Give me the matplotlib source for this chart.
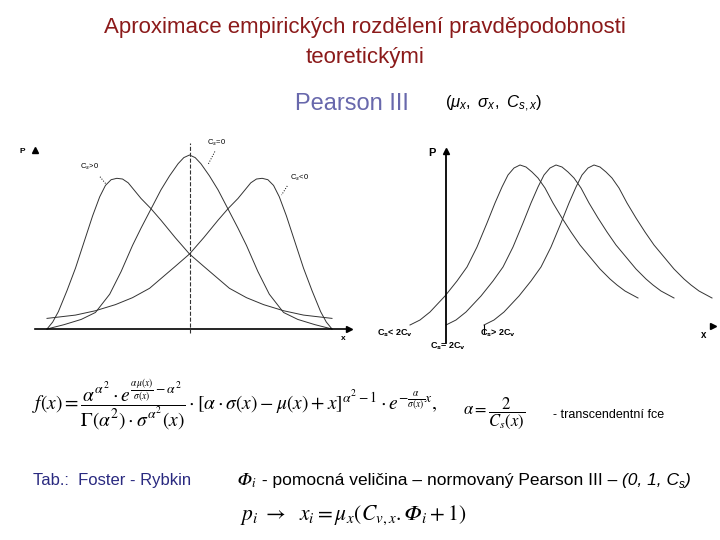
import matplotlib
matplotlib.use('Agg')
import matplotlib.pyplot as plt

plt.rcParams['font.family'] = ['Liberation Sans', 'DejaVu Sans']
plt.rcParams['mathtext.fontset'] = 'stix'
# "custom" math set, used only for the sans italic bits of the text lines
plt.rcParams['mathtext.rm'] = 'Liberation Sans'
plt.rcParams['mathtext.it'] = 'Liberation Sans:italic'
plt.rcParams['mathtext.bf'] = 'Liberation Sans:bold'

# --- left diagram: three density shapes (x in 0..10, P in 0..1) ---
cs_pos_x = [0, 0.2, 0.4, 0.7, 1.0, 1.3, 1.6, 1.85, 2.05, 2.25, 2.45, 2.65, 2.85, 3.05, 3.3, 3.64,
            4.0, 4.5, 5.0, 5.5, 6.0, 6.4, 7.0, 7.6, 8.3, 9.0, 10]
cs_pos_y = [0, 0.04, 0.1, 0.22, 0.35, 0.5, 0.65, 0.76, 0.825, 0.858, 0.866, 0.862, 0.84, 0.8, 0.75, 0.693,
            0.625, 0.525, 0.431, 0.36, 0.29, 0.234, 0.18, 0.14, 0.105, 0.08, 0.061]
cs_neg_x = [0, 1.0, 1.7, 2.4, 3.0, 3.6, 4.0, 4.5, 5.0, 5.5, 6.0, 6.36, 6.7, 6.95, 7.15, 7.35, 7.55,
            7.75, 7.95, 8.15, 8.4, 8.7, 9.0, 9.3, 9.6, 9.8, 10]
cs_neg_y = [0.061, 0.08, 0.105, 0.14, 0.18, 0.234, 0.29, 0.36, 0.431, 0.525, 0.625, 0.693, 0.75, 0.8, 0.84,
            0.862, 0.866, 0.858, 0.825, 0.76, 0.65, 0.5, 0.35, 0.22, 0.1, 0.04, 0]
cs_zero_x = [0, 0.6, 1.2, 1.7, 2.2, 2.6, 3.0, 3.3, 3.65, 4.0, 4.3, 4.6, 4.8, 5.0, 5.2, 5.4, 5.7,
             6.0, 6.35, 6.7, 7.0, 7.4, 7.8, 8.3, 8.8, 9.4, 10]
cs_zero_y = [0, 0.025, 0.055, 0.095, 0.2, 0.33, 0.48, 0.58, 0.69, 0.8, 0.88, 0.95, 0.985, 1.0, 0.985, 0.95,
             0.88, 0.8, 0.69, 0.58, 0.48, 0.33, 0.2, 0.095, 0.055, 0.025, 0]

# --- right diagram: one shape, shifted for Cs<2Cv, Cs=2Cv, Cs>2Cv ---
shape_x = [0, 10, 20, 35, 47, 57, 67, 77, 85, 92, 98, 104, 110, 116, 122, 128, 135, 143, 152, 161,
           170, 180, 190, 200, 207, 215, 228]
shape_y = [2, 7, 15, 31, 46, 60, 80, 104, 124, 140, 152, 159, 162, 160, 155, 149, 139, 124, 109, 95,
           82, 70, 58, 48, 42, 36, 29]
shifts = [0, 36, 74]
right_labels = [r'C$_\mathbf{s}$< 2C$_\mathbf{v}$', r'C$_\mathbf{s}$= 2C$_\mathbf{v}$', r'C$_\mathbf{s}$> 2C$_\mathbf{v}$']

PHI = '\U0001D6F7'  # math italic capital phi

fig = plt.figure(figsize=(7.2, 5.4), dpi=100)

# page layer in pixel coordinates, for the slide texts
bg = fig.add_axes([0, 0, 1, 1])
bg.set_xlim(0, 720)
bg.set_ylim(540, 0)
bg.axis('off')

red = '#8b1a1a'
bg.text(365, 27, 'Aproximace empirických rozdělení pravděpodobnosti', ha='center', va='center',
        fontsize=16, color=red)
bg.text(365, 57, 'teoretickými', ha='center', va='center', fontsize=16, color=red)
bg.text(352, 104, 'Pearson III', ha='center', va='center', fontsize=17, color='#6868ac')
bg.text(445, 104, r'$(\mu_x,\ \sigma_x,\ C_{s,x})$', ha='left', va='center', fontsize=12,
        math_fontfamily='custom')

formula = (r'$f(x)=\dfrac{\alpha^{\alpha^2}\cdot e^{\frac{\alpha\mu(x)}{\sigma(x)}-\alpha^2}}'
           r'{\Gamma(\alpha^2)\cdot\sigma^{\alpha^2}(x)}\cdot[\alpha\cdot\sigma(x)-\mu(x)+x]^{\alpha^2-1}'
           r'\cdot e^{-\frac{\alpha}{\sigma(x)}x},$')
bg.text(32, 405, formula, ha='left', va='center', fontsize=14)
bg.text(463, 413, r'$\alpha=\dfrac{2}{C_s(x)}$', ha='left', va='center', fontsize=12)
bg.text(553, 415, '- transcendentní fce', ha='left', va='center', fontsize=9)

bg.text(33, 481, 'Tab.:  Foster - Rybkin', ha='left', va='center', fontsize=12, color='#2a2a80')
phi = bg.text(237, 481, r'$\mathrm{' + PHI + r'}_i$', ha='left', va='center', fontsize=13)
mid = bg.annotate(' - pomocná veličina – normovaný Pearson III – ', xy=(1, 0.5), xycoords=phi,
                  ha='left', va='center', fontsize=12.5)
par = bg.annotate('(0, 1, C', xy=(1, 0.5), xycoords=mid, ha='left', va='center',
                  fontsize=12.5, style='italic')
sub = bg.annotate('s', xy=(1, 0.2), xycoords=par, ha='left', va='center', fontsize=8.5, style='italic')
bg.annotate(')', xy=(1, 0.5), xycoords=(sub, par), ha='left', va='center', fontsize=12.5, style='italic')
bg.text(240, 515, r'$p_i\ \rightarrow\ \ x_i=\mu_x(C_{v,x}.\mathrm{' + PHI + r'}_i+1)$', ha='left',
        va='center', fontsize=15.5)

# left diagram
ax1 = fig.add_axes([47 / 720, (540 - 329) / 540, 285 / 720, 174 / 540])
ax1.set_xlim(0, 10)
ax1.set_ylim(0, 1)
ax1.axis('off')
lw = 0.7
ax1.plot(cs_pos_x, cs_pos_y, color='#333333', lw=lw, clip_on=False)
ax1.plot(cs_zero_x, cs_zero_y, color='#333333', lw=lw, clip_on=False)
ax1.plot(cs_neg_x, cs_neg_y, color='#333333', lw=lw, clip_on=False)
ax1.plot([-0.42, 10.5], [0, 0], color='black', lw=1.2, clip_on=False)
ax1.plot([10.6], [0], marker='>', color='black', ms=5, clip_on=False)
ax1.plot([5, 5], [-0.023, 1.07], color='#333333', lw=0.8, ls='--', clip_on=False)
ax1.text(-0.88, 1.02, 'P', fontsize=6, fontweight='bold', ha='center', va='center')
ax1.plot([-0.42], [1.03], marker='^', color='black', ms=4, clip_on=False)
ax1.text(10.39, -0.052, 'x', fontsize=6, fontweight='bold', ha='center', va='center')
small = dict(fontsize=5.5, ha='left', va='center', math_fontfamily='dejavusans')
ax1.text(5.6, 1.07, r'C$_s$=0', **small)
ax1.plot([5.89, 5.65], [1.02, 0.945], color='black', lw=0.7, ls=':', clip_on=False)
ax1.text(1.16, 0.933, r'C$_s$>0', **small)
ax1.plot([1.86, 2.07], [0.875, 0.833], color='black', lw=0.7, ls=':', clip_on=False)
ax1.text(8.53, 0.868, r'C$_s$<0', **small)
ax1.plot([8.43, 8.23], [0.822, 0.77], color='black', lw=0.7, ls=':', clip_on=False)

# right diagram (units ~ pixels of the original drawing)
ax2 = fig.add_axes([410 / 720, (540 - 327) / 540, 302 / 720, 162 / 540])
ax2.set_xlim(0, 302)
ax2.set_ylim(0, 162)
ax2.axis('off')
for s in shifts:
    ax2.plot([v + s for v in shape_x], shape_y, color='#333333', lw=lw, clip_on=False)
ax2.plot([36, 36], [-16, 175], color='black', lw=1.3, clip_on=False)
ax2.plot([36], [176], marker='^', color='black', ms=5, clip_on=False)
ax2.text(22, 174, 'P', fontsize=8, fontweight='bold', ha='center', va='center')
ax2.plot([303], [1], marker='>', color='black', ms=5, clip_on=False)
ax2.text(294, -8, 'x', fontsize=7, fontweight='bold', ha='center', va='center')
ax2.plot([74, 74], [2, -6], color='black', lw=0.8, clip_on=False)
lab_x = [-33, 20, 70]
lab_y = [-6, -19, -6]
for lx, ly, t in zip(lab_x, lab_y, right_labels):
    ax2.text(lx, ly, t, fontsize=6.5, fontweight='bold', ha='left', va='center',
             math_fontfamily='dejavusans')

fig.savefig('out.png', dpi=100)
